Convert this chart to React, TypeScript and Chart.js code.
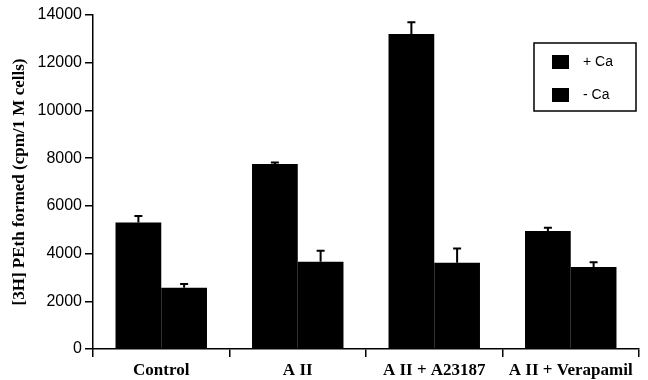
import React, { useEffect, useRef } from "react";
import { Chart, registerables } from "chart.js";

Chart.register(...registerables);

const categories = ["Control", "A II", "A II + A23187", "A II + Verapamil"];
const plusCa = [5300, 7750, 13200, 4950];
const plusCaErr = [280, 70, 500, 130];
const minusCa = [2570, 3660, 3620, 3440];
const minusCaErr = [150, 460, 590, 200];
const seriesLabels = ["+ Ca", "- Ca"];
const yTitle = "[3H] PEth formed (cpm/1 M cells)";

const errors = [plusCaErr, minusCaErr];

const errorBarPlugin = {
  id: "errorBars",
  afterDatasetsDraw(chart: any) {
    const ctx = chart.ctx;
    const y = chart.scales.y;
    ctx.save();
    ctx.strokeStyle = "#000";
    ctx.lineWidth = 2;
    chart.data.datasets.forEach((ds: any, di: number) => {
      const meta = chart.getDatasetMeta(di);
      meta.data.forEach((bar: any, i: number) => {
        const v = ds.data[i];
        const e = errors[di][i];
        const top = y.getPixelForValue(v + e);
        const base = y.getPixelForValue(v);
        ctx.beginPath();
        ctx.moveTo(bar.x, base);
        ctx.lineTo(bar.x, top);
        ctx.moveTo(bar.x - 4, top);
        ctx.lineTo(bar.x + 4, top);
        ctx.stroke();
      });
    });
    ctx.restore();
  },
};

const boxLegendPlugin = {
  id: "boxLegend",
  afterDraw(chart: any) {
    const ctx = chart.ctx;
    const area = chart.chartArea;
    const bx = area.right - 105;
    const by = area.top + 28;
    const bw = 102;
    const bh = 68;
    ctx.save();
    ctx.strokeStyle = "#000";
    ctx.lineWidth = 1.5;
    ctx.strokeRect(bx, by, bw, bh);
    ctx.font = "14px 'Liberation Sans', Arial, sans-serif";
    ctx.textBaseline = "middle";
    ctx.fillStyle = "#000";
    chart.data.datasets.forEach((ds: any, i: number) => {
      const cy = by + 19 + i * 33;
      ctx.fillStyle = ds.backgroundColor;
      ctx.fillRect(bx + 18, cy - 7, 17, 14);
      ctx.fillStyle = "#000";
      ctx.fillText(ds.label, bx + 49, cy);
    });
    ctx.restore();
  },
};

export default function App() {
  const ref = useRef<HTMLCanvasElement>(null);
  useEffect(() => {
    if (!ref.current) return;
    const chart = new Chart(ref.current, {
      type: "bar",
      data: {
        labels: categories,
        datasets: [
          { label: seriesLabels[0], data: plusCa, backgroundColor: "#000", borderWidth: 0 },
          { label: seriesLabels[1], data: minusCa, backgroundColor: "#000", borderWidth: 0 },
        ],
      },
      options: {
        responsive: false,
        animation: false,
        layout: { padding: { left: 0, right: 9, top: 15, bottom: 0 } },
        plugins: { legend: { display: false }, tooltip: { enabled: false } },
        datasets: { bar: { barPercentage: 1, categoryPercentage: 0.67 } },
        scales: {
          x: {
            grid: { display: true, drawOnChartArea: false, drawTicks: true, tickLength: 8, color: "#000", lineWidth: 1.5, offset: true },
            border: { display: true, color: "#000", width: 1.5 },
            ticks: { color: "#000", padding: 3, maxRotation: 0, font: { family: "'Liberation Serif', 'Times New Roman', serif", size: 17, weight: "bold" } },
            afterFit: (s: any) => { s.height = 31; },
          },
          y: {
            min: 0,
            max: 14000,
            ticks: {
              stepSize: 2000,
              color: "#000",
              padding: 3,
              font: { family: "'Liberation Sans', Arial, sans-serif", size: 16 },
              callback: (v: any) => String(v),
            },
            grid: { display: true, drawOnChartArea: false, drawTicks: true, tickLength: 8, color: "#000", lineWidth: 1.5 },
            border: { display: true, color: "#000", width: 1.5 },
            title: { display: true, text: yTitle, color: "#000", padding: { top: 9, bottom: 0 }, font: { family: "'Liberation Serif', 'Times New Roman', serif", size: 17, weight: "bold" } },
            afterFit: (s: any) => { s.width = 93; },
          },
        },
      },
      plugins: [errorBarPlugin, boxLegendPlugin],
    });
    return () => chart.destroy();
  }, []);
  return (
    <div style={{ position: "fixed", left: 0, top: 0, width: 648, height: 380, background: "#fff" }}>
      <canvas ref={ref} width={648} height={380} style={{ display: "block" }} />
    </div>
  );
}
